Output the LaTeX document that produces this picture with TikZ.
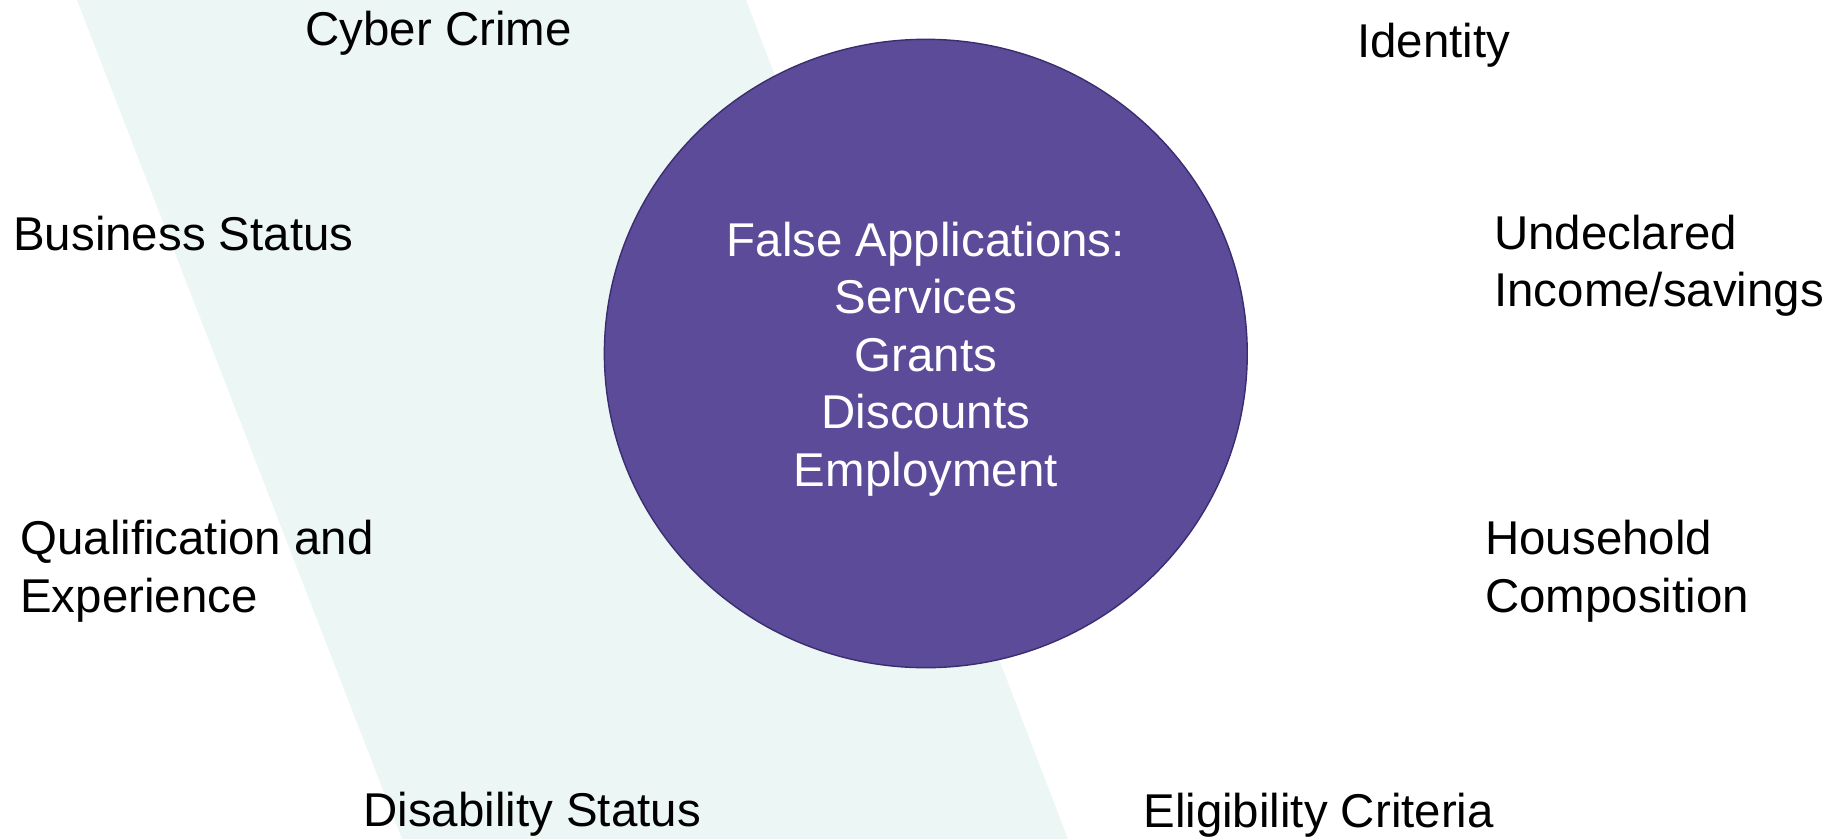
\documentclass[tikz,border=0pt]{standalone}
\usepackage{fontspec}
\setmainfont{Liberation Sans}
\usepackage{xcolor}
\usetikzlibrary{positioning}
\usetikzlibrary{shapes.geometric}

\definecolor{bandgreen}{RGB}{236,246,244}
\definecolor{hubfill}{RGB}{91,75,152}
\definecolor{hubedge}{RGB}{58,46,112}

\begin{document}
\begin{tikzpicture}[
  x=0.02cm, y=-0.02cm,
  font=\fontsize{27}{32.7}\selectfont,
  factor/.style={anchor=base west, align=left, inner sep=0pt},
  hub/.style={ellipse, draw=hubedge, line width=0.8pt, fill=hubfill,
    minimum width=12.86cm, minimum height=12.57cm, inner sep=0pt},
  hubtext/.style={text=white, align=center, inner sep=0pt}
]
\useasboundingbox (0,0) rectangle (1842,839);

% Slanted band behind the circle
\fill[bandgreen] (77,0) -- (746,0) -- (1068,839) -- (402,839) -- cycle;

% Central circle
\node[hub] (app) at (925.8,353.5) {};
\node[hubtext, yshift=-0.11cm] (apptext) at (app.center)
{False Applications:\\Services\\Grants\\Discounts\\Employment};

% Left-hand factors (base = last line)
\node[factor] (cyber) at (305,45.7) {Cyber Crime};
\node[factor] (business) at (13,250) {Business Status};
\node[factor] (qualif) at (20,612.2) {Qualification and\\Experience};
\node[factor] (disability) at (363,826.4) {Disability Status};

% Right-hand factors
\node[factor] (identity) at (1357,57.3) {Identity};
\node[factor] (income) at (1494,306.7) {Undeclared\\Income/savings};
\node[factor] (household) at (1485,612.2) {Household\\Composition};
\node[factor] (eligibility) at (1143,827.4) {Eligibility Criteria};

\end{tikzpicture}
\end{document}
